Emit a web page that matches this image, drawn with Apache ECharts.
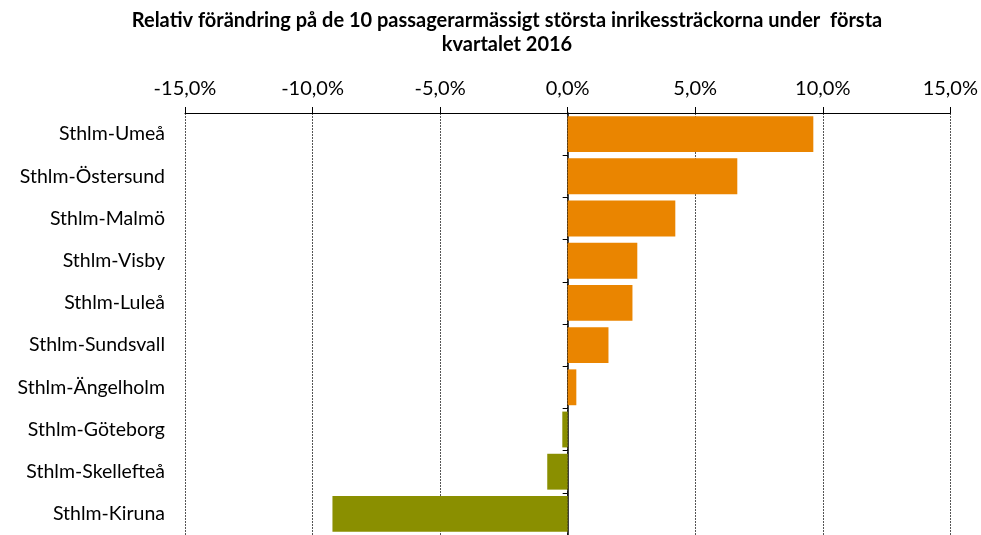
<!DOCTYPE html>
<html>
<head>
<meta charset="utf-8">
<script src="https://cdn.jsdelivr.net/npm/echarts@6/dist/echarts.min.js"></script>
<style>
    html, body { margin: 0; padding: 0; background: #fff; }
    #chart { width: 981px; height: 535px; }
</style>
</head>
<body>
<div id="chart"></div>
<script>
// sträckor, uppifrån och ned
const routes = ['Sthlm-Umeå', 'Sthlm-Östersund', 'Sthlm-Malmö', 'Sthlm-Visby', 'Sthlm-Luleå',
    'Sthlm-Sundsvall', 'Sthlm-Ängelholm', 'Sthlm-Göteborg', 'Sthlm-Skellefteå', 'Sthlm-Kiruna']
// relativ förändring i procent
const change = [9.63, 6.65, 4.22, 2.73, 2.54, 1.6, 0.34, -0.21, -0.8, -9.22]
const xTicks = [-15, -10, -5, 0, 5, 10, 15]

const font = 'Lato, "Open Sans", sans-serif'
const chart = echarts.init(document.getElementById('chart'))

var option = {
    animation: false,
    textStyle: { fontFamily: font },
    title: {
        text: 'Relativ förändring på de 10 passagerarmässigt största inrikessträckorna under  första\nkvartalet 2016',
        left: 502,
        textAlign: 'center',
        top: 4,
        textStyle: {
            fontFamily: font,
            fontSize: 20,
            fontWeight: 'bold',
            color: '#000',
            lineHeight: 24
        }
    },
    grid: {
        left: 185,
        right: 30,
        top: 113,
        height: 425,
        containLabel: false
    },
    xAxis: {
        type: 'value',
        position: 'top',
        min: xTicks[0],
        max: xTicks[xTicks.length - 1],
        interval: 5,
        axisLine: { show: true, lineStyle: { color: '#000', width: 1 } },
        axisTick: { show: true, length: 6, lineStyle: { color: '#000' } },
        axisLabel: {
            margin: 14,
            fontSize: 20,
            color: '#000',
            fontFamily: font,
            formatter: v => v.toFixed(1).replace('.', ',') + '%'
        },
        splitLine: {
            show: true,
            lineStyle: { color: '#555', type: [2, 1], width: 1 }
        }
    },
    yAxis: [
        {
            type: 'category',
            data: routes,
            inverse: true,
            position: 'left',
            axisLine: { show: false, onZero: false },
            axisTick: { show: false },
            axisLabel: { margin: 20, fontSize: 19.5, color: '#000', fontFamily: font }
        },
        {
            // axellinjen vid noll
            type: 'category',
            data: routes,
            inverse: true,
            position: 'right',
            axisLine: { show: true, onZero: true, lineStyle: { color: '#000', width: 1.5 } },
            axisTick: { show: true, inside: true, length: 5, lineStyle: { color: '#000' } },
            axisLabel: { show: false },
            splitLine: { show: false }
        }
    ],
    series: [
        {
            type: 'bar',
            yAxisIndex: 0,
            data: change.map(v => ({
                value: v,
                itemStyle: { color: v >= 0 ? '#EA8500' : '#8A8F00' }
            })),
            barCategoryGap: '15%'
        }
    ]
}

option && chart.setOption(option)
</script>
</body>
</html>
